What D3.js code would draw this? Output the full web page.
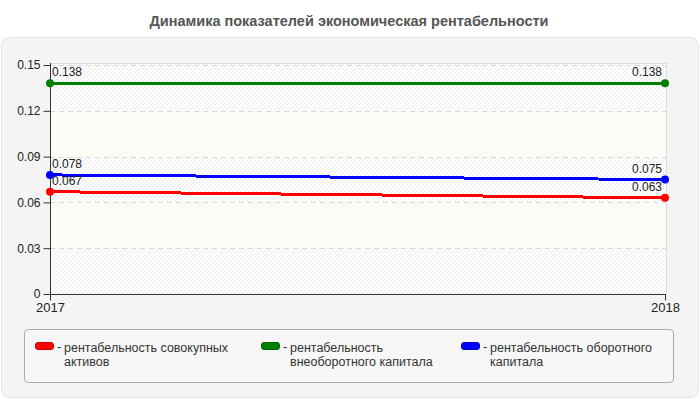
<!DOCTYPE html>
<html><head><meta charset="utf-8">
<script src="https://cdn.jsdelivr.net/npm/d3@7/dist/d3.min.js"></script>
<style>
body{margin:0;padding:0;background:#fff;}
svg text{font-family:"Liberation Sans",Arial,sans-serif;}
</style></head>
<body><svg id="c" width="700" height="400"></svg>
<script>
const title = "Динамика показателей экономическая рентабельности";
const years = ["2017", "2018"];
const seriesNames = ["рентабельность совокупных активов", "рентабельность внеоборотного капитала", "рентабельность оборотного капитала"];
const legendLines = [["рентабельность совокупных", "активов"], ["рентабельность", "внеоборотного капитала"], ["рентабельность оборотного", "капитала"]];
const colors = ["#ff0000", "#008000", "#0000ff"];
const valuesAssets = [0.067, 0.063];
const valuesNonCurrent = [0.138, 0.138];
const valuesCurrent = [0.078, 0.075];
const yTicks = [0, 0.03, 0.06, 0.09, 0.12, 0.15];

(function(){
const series = [valuesAssets, valuesNonCurrent, valuesCurrent];
const svg = d3.select("#c");

const defs = svg.append("defs");
const pat = defs.append("pattern").attr("id","hatch").attr("patternUnits","userSpaceOnUse")
  .attr("width",4).attr("height",4);
pat.append("rect").attr("width",4).attr("height",4).attr("fill","#ffffff");
pat.append("path").attr("d","M-1,1 l2,-2 M0,4 l4,-4 M3,5 l2,-2").attr("stroke","#eaeaea").attr("stroke-width",1);

svg.append("text").attr("x",349).attr("y",26).attr("text-anchor","middle")
  .attr("font-size",14.5).attr("font-weight","bold").attr("fill","#555").text(title);

svg.append("rect").attr("x",1.5).attr("y",37.5).attr("width",697).attr("height",360).attr("rx",8)
  .attr("fill","#f4f4f4").attr("stroke","#e4e4e4");

const pLeft = 50, pRight = 666, pTop = 63, pBottom = 294;
const x = d3.scalePoint().domain(years).range([pLeft, pRight-1]);
const y = d3.scaleLinear().domain([0, 0.15]).range([pBottom, 65]);

const g = svg.append("g");
g.append("rect").attr("x",pLeft).attr("y",pTop).attr("width",pRight-pLeft).attr("height",pBottom-pTop).attr("fill","url(#hatch)");
for (let i = 0; i < yTicks.length-1; i++) {
  if (i % 2 === 1) {
    g.append("rect").attr("x",pLeft).attr("y",y(yTicks[i+1])).attr("width",pRight-pLeft)
      .attr("height",y(yTicks[i])-y(yTicks[i+1])).attr("fill","#fcfcf6");
  }
}
g.append("path").attr("d",`M${pLeft},${pTop+0.5}H${pRight+0.5}V${pBottom}`).attr("fill","none").attr("stroke","#dcdcdc");

g.selectAll(".grid").data(yTicks.slice(1)).enter().append("line")
  .attr("x1",pLeft).attr("x2",pRight).attr("y1",d=>Math.round(y(d))+0.5).attr("y2",d=>Math.round(y(d))+0.5)
  .attr("stroke","#d8d8d8").attr("stroke-dasharray","5,4");

const yAxis = d3.axisLeft(y).tickValues(yTicks).tickSize(7).tickPadding(3).tickFormat(d=>d===0?"0":d3.format(".2f")(d));
const ya = svg.append("g").attr("transform",`translate(${pLeft+0.5},0)`).call(yAxis);
ya.selectAll("path,line").attr("stroke","#333");
ya.select(".domain").attr("d",`M0,${pTop}V${pBottom+0.5}`);
ya.selectAll("text").attr("font-size",12).attr("fill","#222").attr("font-family","Liberation Sans, Arial, sans-serif");

const xAxis = d3.axisBottom(x).tickSize(6).tickPadding(2);
const xa = svg.append("g").attr("transform",`translate(0,${pBottom+0.5})`).call(xAxis);
xa.selectAll("path,line").attr("stroke","#333");
xa.select(".domain").attr("d",`M${pLeft},0H${pRight}`);
xa.selectAll("text").attr("font-size",13).attr("fill","#222").attr("font-family","Liberation Sans, Arial, sans-serif");

const line = d3.line().x((d,i)=>x(years[i])).y(d=>y(d));
series.forEach((vals,si)=>{
  svg.append("path").datum(vals).attr("d",line).attr("fill","none").attr("stroke",colors[si])
    .attr("stroke-width",3).attr("shape-rendering","crispEdges");
});
series.forEach((vals,si)=>{
  svg.selectAll(".pt"+si).data(vals).enter().append("circle")
    .attr("cx",(d,i)=>x(years[i])).attr("cy",d=>y(d)).attr("r",4).attr("fill",colors[si]);
  svg.selectAll(".lb"+si).data(vals).enter().append("text")
    .attr("x",(d,i)=>i===0 ? x(years[i])+2 : x(years[i])-3)
    .attr("y",d=>y(d)-7)
    .attr("text-anchor",(d,i)=>i===0?"start":"end")
    .attr("font-size",12).attr("fill","#222").text(d=>d3.format(".3f")(d));
});

svg.append("rect").attr("x",24.5).attr("y",329.5).attr("width",649).attr("height",53).attr("rx",4)
  .attr("fill","#f7f7f7").attr("stroke","#aaa");
const legX = [35, 261, 461];
const lineGap = [14, 14, 14];
legendLines.forEach((lines,i)=>{
  const lg = svg.append("g");
  lg.append("rect").attr("x",legX[i]+0.5).attr("y",342.5).attr("width",18).attr("height",7).attr("rx",2.5)
    .attr("fill",colors[i]).attr("stroke",d3.color(colors[i]).darker(0.6)).attr("stroke-width",1);
  lg.append("text").attr("x",legX[i]+22).attr("y",351).attr("font-size",13).attr("fill","#333").text("-");
  const t = lg.append("text").attr("font-size",12.5).attr("fill","#333");
  lines.forEach((s,j)=>{
    t.append("tspan").attr("x",legX[i]+29).attr("y",351.5 + j*lineGap[i]).text(s);
  });
});
})();
</script></body></html>
